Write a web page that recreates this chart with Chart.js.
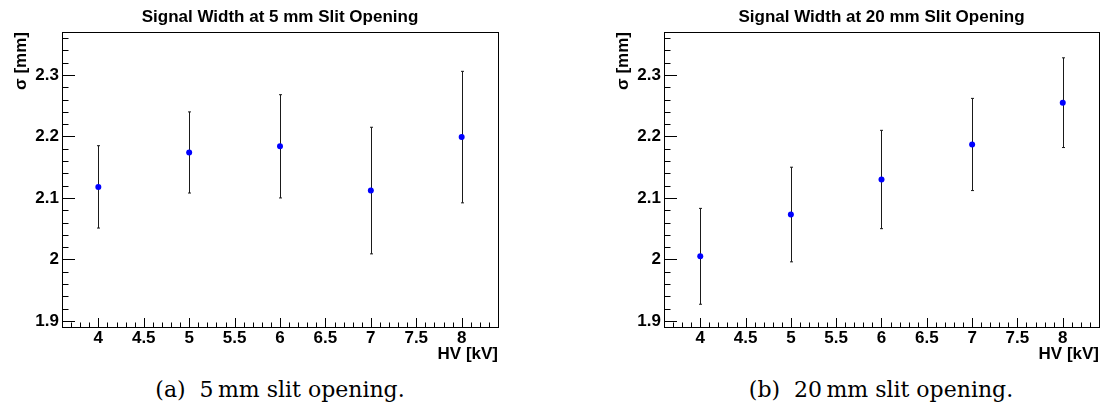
<!DOCTYPE html>
<html>
<head>
<meta charset="utf-8">
<script src="https://cdn.jsdelivr.net/npm/chart.js@4"></script>
<style>
  body { margin: 0; background: #fff; width: 1103px; height: 409px; overflow: hidden; position: relative; }
  canvas { position: absolute; top: 0; }
  .cap { position: absolute; top: 379px; width: 400px; text-align: center;
         font-family: "DejaVu Serif", serif; font-size: 22px; line-height: 22px; color: #000; white-space: nowrap; }
  .cap .lab { margin-right: 14px; }
</style>
</head>
<body>
<canvas id="c5" width="510" height="370" style="left:0px"></canvas>
<canvas id="c20" width="501" height="370" style="left:602px"></canvas>
<div class="cap" style="left:80px"><span class="lab">(a)</span>5&thinsp;mm slit opening.</div>
<div class="cap" style="left:681px"><span class="lab">(b)</span>20&thinsp;mm slit opening.</div>
<script>
// datos
const hv = [4, 5, 6, 7, 8];
const sigma5 = [2.118, 2.174, 2.184, 2.112, 2.199];
const err5 = [0.067, 0.066, 0.084, 0.103, 0.107];
const sigma20 = [2.005, 2.073, 2.130, 2.187, 2.255];
const err20 = [0.078, 0.077, 0.080, 0.075, 0.073];

const xTicks = [4, 4.5, 5, 5.5, 6, 6.5, 7, 7.5, 8];
const xTickLabels = ["4", "4.5", "5", "5.5", "6", "6.5", "7", "7.5", "8"];
const yTicks = [1.9, 2.0, 2.1, 2.2, 2.3];
const yTickLabels = ["1.9", "2", "2.1", "2.2", "2.3"];

const fontFam = '"Liberation Sans", Arial, sans-serif';

// barras de error, marco y marcas estilo ROOT
const rootStyle = {
  id: "rootStyle",
  beforeDatasetsDraw(chart) {
    const ctx = chart.ctx;
    const x = chart.scales.x, y = chart.scales.y;
    const ds = chart.data.datasets[0];
    ctx.save();
    ctx.strokeStyle = "#1a1a1a";
    ctx.lineWidth = 1;
    ds.data.forEach((p, i) => {
      const px = Math.round(x.getPixelForValue(p.x)) + 0.5;
      const top = y.getPixelForValue(p.y + ds.errors[i]);
      const bot = y.getPixelForValue(p.y - ds.errors[i]);
      ctx.beginPath();
      ctx.moveTo(px, top); ctx.lineTo(px, bot);
      ctx.moveTo(px - 1.5, top); ctx.lineTo(px + 1.5, top);
      ctx.moveTo(px - 1.5, bot); ctx.lineTo(px + 1.5, bot);
      ctx.stroke();
    });
    ctx.restore();
  },
  afterDraw(chart) {
    const ctx = chart.ctx;
    const a = chart.chartArea;
    const x = chart.scales.x, y = chart.scales.y;
    ctx.save();
    ctx.strokeStyle = "#000";
    ctx.lineWidth = 1;
    ctx.strokeRect(Math.round(a.left) + 0.5, Math.round(a.top) + 0.5,
      Math.round(a.right - a.left), Math.round(a.bottom - a.top));
    ctx.beginPath();
    // marcas eje y: mayores cada 0.1, menores cada 0.02
    for (let k = Math.ceil(y.min / 0.02 - 1e-6); k * 0.02 <= y.max + 1e-9; k++) {
      const v = k * 0.02;
      const major = Math.abs(v * 10 - Math.round(v * 10)) < 1e-6;
      const py = Math.round(y.getPixelForValue(v)) + 0.5;
      ctx.moveTo(a.left, py);
      ctx.lineTo(a.left + (major ? 13 : 6.5), py);
    }
    // marcas eje x: mayores cada 0.5, menores cada 0.1
    for (let k = Math.ceil(x.min / 0.1 - 1e-6); k * 0.1 <= x.max + 1e-9; k++) {
      const v = k * 0.1;
      const major = Math.abs(v * 2 - Math.round(v * 2)) < 1e-6;
      const px = Math.round(x.getPixelForValue(v)) + 0.5;
      ctx.moveTo(px, a.bottom);
      ctx.lineTo(px, a.bottom - (major ? 9 : 4.5));
    }
    ctx.stroke();
    // titulo centrado sobre el area del grafico
    ctx.fillStyle = "#000";
    ctx.font = "bold 17px " + fontFam;
    ctx.textAlign = "center";
    ctx.textBaseline = "middle";
    ctx.fillText(chart.options.plugins.rootStyle.title, (a.left + a.right) / 2, 17);
    ctx.restore();
  }
};

function crearGrafico(id, titulo, valores, errores, padRight) {
  const ctx = document.getElementById(id).getContext("2d");
  return new Chart(ctx, {
    type: "scatter",
    data: {
      datasets: [{
        data: hv.map((v, i) => ({ x: v, y: valores[i] })),
        errors: errores,
        pointRadius: 3,
        pointBorderWidth: 0,
        pointBackgroundColor: "#0000ff",
        pointBorderColor: "#0000ff"
      }]
    },
    options: {
      responsive: false,
      animation: false,
      layout: { padding: { top: 32, left: 0, right: padRight, bottom: 0 } },
      plugins: {
        legend: { display: false },
        tooltip: { enabled: false },
        rootStyle: { title: titulo }
      },
      scales: {
        x: {
          type: "linear",
          min: 3.6,
          max: 8.4,
          grid: { display: false, drawTicks: false },
          border: { display: false },
          afterBuildTicks: s => { s.ticks = xTicks.map(v => ({ value: v })); },
          afterFit: s => { s.height = 43; },
          ticks: {
            callback: (v, i) => xTickLabels[i],
            autoSkip: false,
            maxRotation: 0,
            padding: 1,
            color: "#000",
            font: { family: fontFam, size: 17, weight: "bold" }
          },
          title: {
            display: true,
            text: "HV [kV]",
            align: "end",
            color: "#000",
            padding: { top: 0, bottom: 5 },
            font: { family: fontFam, size: 17, weight: "bold" }
          }
        },
        y: {
          type: "linear",
          min: 1.89,
          max: 2.37,
          grid: { display: false, drawTicks: false },
          border: { display: false },
          afterBuildTicks: s => { s.ticks = yTicks.map(v => ({ value: v })); },
          afterFit: s => { s.width = 62; },
          ticks: {
            callback: (v, i) => yTickLabels[i],
            autoSkip: false,
            padding: 3,
            color: "#000",
            font: { family: fontFam, size: 17, weight: "bold" }
          },
          title: {
            display: true,
            text: "σ [mm]",
            align: "end",
            color: "#000",
            padding: { top: 11, bottom: 0 },
            font: { family: fontFam, size: 17, weight: "bold" }
          }
        }
      }
    },
    plugins: [rootStyle]
  });
}

crearGrafico("c5", "Signal Width at 5 mm Slit Opening", sigma5, err5, 12);
crearGrafico("c20", "Signal Width at 20 mm Slit Opening", sigma20, err20, 4);
</script>
</body>
</html>
